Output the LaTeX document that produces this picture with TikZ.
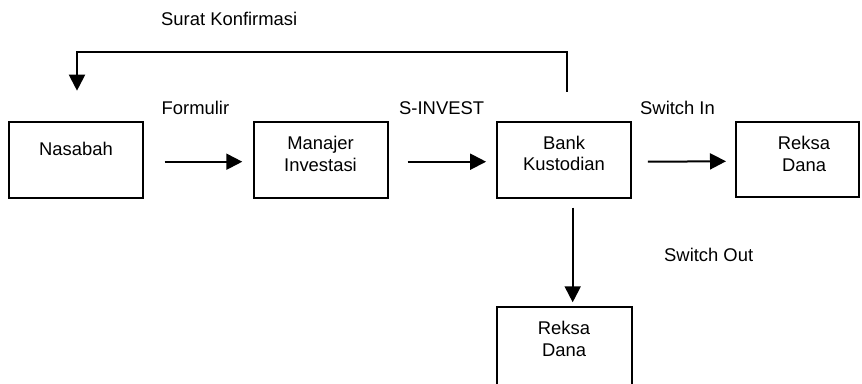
\documentclass[tikz,border=0pt]{standalone}
\usepackage{fontspec}
\setmainfont{Liberation Sans}
\usetikzlibrary{arrows.meta}
\begin{document}
\begin{tikzpicture}[x=1pt,y=-1pt,
  box/.style={draw=black,line width=2pt,inner sep=0pt,minimum width=134pt,minimum height=76pt},
  txt/.style={inner sep=0pt,align=center,font=\fontsize{18.4}{21.6}\selectfont},
  lbl/.style={inner sep=0pt,anchor=base west,font=\fontsize{18.4}{21.6}\selectfont},
  arr/.style={line width=2pt,-{Triangle[length=16pt,width=16pt]}},
  ln/.style={line width=2pt}]
\useasboundingbox (0,0) rectangle (862,383);
\clip (0,0) rectangle (862,383);
% boxes
\node[box] (nas) at (76,160) {};
\node[box] (mi) at (320.8,160) {};
\node[box] (bk) at (564.3,160) {};
\node[box,minimum width=122.6pt,minimum height=75.2pt] (rd1) at (797.5,159.6) {};
\node[box,minimum width=135pt,minimum height=79pt] (rd2) at (564.7,346.5) {};
% box texts
\node[txt,anchor=base] (nast) at (76,155.7) {Nasabah};
\node[txt,anchor=base] (mit) at (320.5,171) {Manajer\\Investasi};
\node[txt,anchor=base] (bkt) at (564,170.7) {Bank\\Kustodian};
\node[txt,anchor=base] (rd1t) at (804,171) {Reksa\\Dana};
\node[txt,anchor=base] (rd2t) at (564,356.5) {Reksa\\Dana};
% labels
\node[lbl] (l1) at (161,25.7) {Surat Konfirmasi};
\node[lbl] (l2) at (161.5,114.3) {Formulir};
\node[lbl] (l3) at (399,114.3) {S-INVEST};
\node[lbl] (l4) at (640,114.3) {Switch In};
\node[lbl] (l5) at (664,261.7) {Switch Out};
% arrows
\draw[arr] ([xshift=20.5pt,yshift=-1.7pt]nas.east) -- ([xshift=-10.5pt,yshift=-1.7pt]mi.west);
\draw[arr] ([xshift=18.9pt,yshift=-1.7pt]mi.east) -- ([xshift=-10.2pt,yshift=-1.7pt]bk.west);
\draw[arr] ([xshift=15.5pt,yshift=-1.7pt]bk.east) -- ([xshift=-9.2pt,yshift=-1.7pt]rd1.west);
\draw[arr] ([xshift=8.4pt,yshift=-8.7pt]bk.south) -- ([xshift=8pt,yshift=3.7pt]rd2.north);
% feedback
\coordinate (fbs) at ([xshift=2.4pt,yshift=29.3pt]bk.north);
\coordinate (fbe) at ([xshift=1pt,yshift=30.3pt]nas.north);
\draw[arr] (fbs) -- ++(0,-40) -| (fbe);
\end{tikzpicture}
\end{document}
